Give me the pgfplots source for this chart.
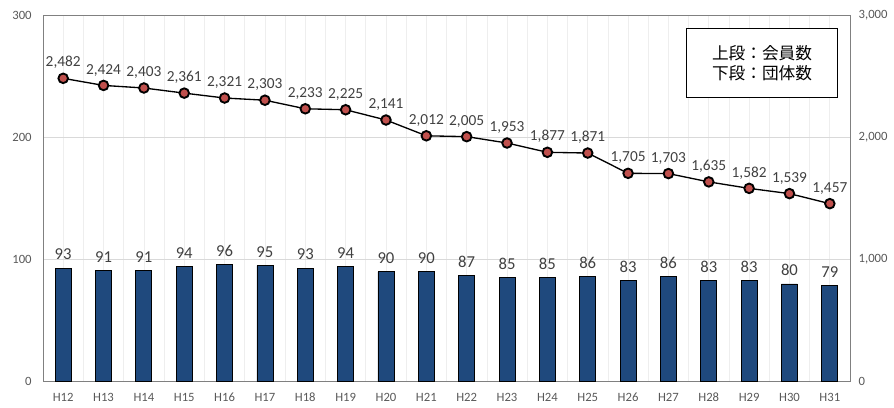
\documentclass[border=0pt]{standalone}
\usepackage{pgfplots}
\pgfplotsset{compat=1.18}
\usepackage{pgfplotstable}
\usetikzlibrary{calc}
\usepackage{fontspec}
\setmainfont{Carlito}
\newfontfamily\cjk{Noto Sans CJK JP}
\definecolor{barblue}{RGB}{31,73,125}
\definecolor{mkred}{RGB}{192,80,77}
\definecolor{tickgray}{RGB}{89,89,89}
\definecolor{lblgray}{RGB}{64,64,64}
\definecolor{gridgray}{RGB}{217,217,217}
\definecolor{gridlight}{RGB}{238,238,238}
\definecolor{framegray}{RGB}{128,128,128}

% x = category index, grp = 団体数, mem = 会員数
\pgfplotstableread{
x grp mem
0 93 2482
1 91 2424
2 91 2403
3 94 2361
4 96 2321
5 95 2303
6 93 2233
7 94 2225
8 90 2141
9 90 2012
10 87 2005
11 85 1953
12 85 1877
13 86 1871
14 83 1705
15 86 1703
16 83 1635
17 83 1582
18 80 1539
19 79 1457
}\data

\pgfplotsset{
  base/.style={
    scale only axis, width=605pt, height=275pt,
    xmin=-0.5, xmax=19.5,
    /pgf/number format/assume math mode=true,
    /pgf/number format/1000 sep={,},
    tick label style={font=\fontsize{9.5}{11}\selectfont, text=tickgray},
    major tick length=0pt, minor tick length=0pt,
    axis line style={framegray, line width=0.6pt},
  }
}

\begin{document}
\begin{tikzpicture}
\begin{axis}[
  base,
  ymin=0, ymax=300,
  ytick={0,100,200,300},
  xtick={0,...,19},
  xticklabels={H12,H13,H14,H15,H16,H17,H18,H19,H20,H21,H22,H23,H24,H25,H26,H27,H28,H29,H30,H31},
  minor xtick={0.5,1.5,...,18.5},
  xmajorgrids, xminorgrids, ymajorgrids,
  major grid style={gridlight, line width=0.5pt},
  minor grid style={gridlight, line width=0.5pt},
  y grid style={gridgray, line width=0.6pt},
  xticklabel style={yshift=-5pt},
  yticklabel style={xshift=-5pt},
  ybar, bar width=12pt,
  nodes near coords,
  every node near coord/.append style={font=\fontsize{12.5}{14}\selectfont, text=lblgray, yshift=2.5pt},
]
  \addplot[fill=barblue, draw=black, line width=0.6pt] table[x=x, y=grp] {\data};
  \coordinate (bl) at (rel axis cs:0,0);
  \coordinate (tr) at (rel axis cs:1,1);
  \coordinate (lg1) at (rel axis cs:0.797,0.962);
  \coordinate (lg2) at (rel axis cs:0.985,0.774);
\end{axis}
\begin{axis}[
  base,
  ymin=0, ymax=3000,
  ytick={0,1000,2000,3000},
  axis x line=none,
  axis y line*=right,
  yticklabel style={xshift=3pt},
  nodes near coords,
  every node near coord/.append style={font=\fontsize{11.5}{13}\selectfont, text=lblgray, yshift=3pt},
]
  \addplot[black, line width=1pt, mark=*, mark size=3.6pt,
    mark options={fill=mkred, draw=black, line width=1.4pt}] table[x=x, y=mem] {\data};
\end{axis}
\draw[black, line width=0.8pt, fill=white] (lg1) rectangle (lg2);
\node[align=center, font=\cjk\fontsize{12.5}{15}\selectfont, text=black]
  at ($(lg1)!0.5!(lg2)$) {上段：会員数\\下段：団体数};
\path (bl) +(-32.25pt,-19.5pt) (tr) +(33pt,11.25pt);
\end{tikzpicture}
\end{document}
